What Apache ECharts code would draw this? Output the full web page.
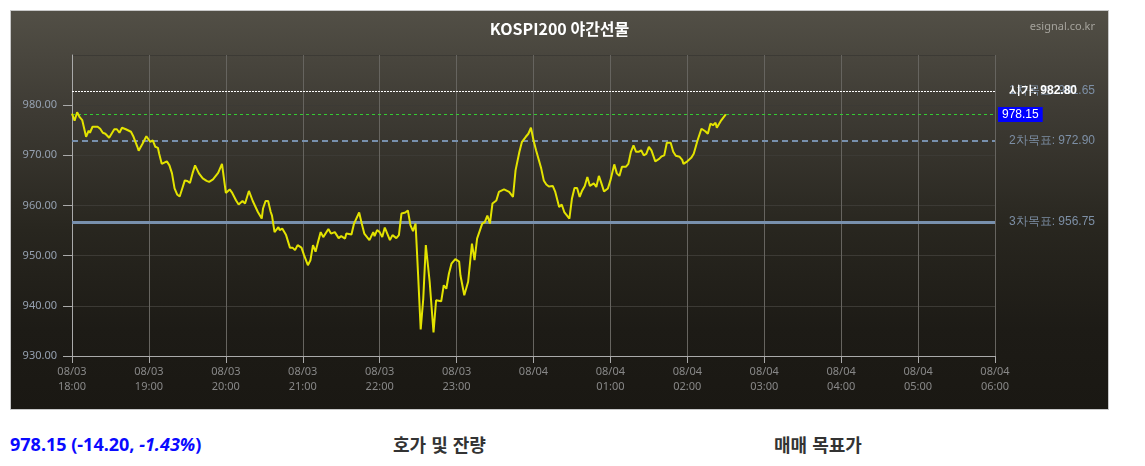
<!DOCTYPE html>
<html lang="ko">

<head>
    <meta charset="UTF-8">
    <title>KOSPI200 야간선물</title>
    <script src="https://cdn.jsdelivr.net/npm/echarts@6/dist/echarts.min.js"></script>
    <style>
        body {
            margin: 0;
            background: #fff;
            font-family: 'Noto Sans', 'Noto Sans CJK KR', sans-serif;
        }

        #box {
            position: absolute;
            left: 10px;
            top: 10px;
            width: 1097px;
            height: 398px;
            border: 1px solid #c8c8c8;
            background: linear-gradient(#524f46 0%, #3e3b34 25%, #28261f 55%, #1d1b16 80%, #1a1813 100%);
        }

        #main {
            width: 1097px;
            height: 398px;
        }

        .foot {
            position: absolute;
            top: 432px;
            font-size: 18px;
            font-weight: bold;
            line-height: 24px;
            font-family: 'Noto Sans CJK KR', sans-serif;
            color: #333;
        }

        .price {
            left: 10px;
            color: #0a0aff;
            font-family: 'Noto Sans', 'Noto Sans CJK KR', sans-serif;
        }
    </style>
</head>

<body>
    <div id="box">
        <div id="main"></div>
    </div>
    <div class="foot price">978.15 (-14.20, <i>-1.43%</i>)</div>
    <div class="foot" style="left:393px">호가 및 잔량</div>
    <div class="foot" style="left:774px">매매 목표가</div>

    <script>
        // 시간축: 18:00 부터 지난 분(minute)
        var minutes = [
            0, 2, 4, 6, 8, 11, 13, 14, 16, 20, 22, 24, 26, 29, 33, 35, 37, 39, 42, 46,
            48, 51, 52, 55, 58, 61, 63, 65, 67, 68, 70, 74, 76, 78, 80, 82, 84, 86, 88, 90,
            92, 94, 96, 99, 102, 105, 107, 110, 114, 117, 118, 120, 123, 125, 128, 130, 133, 135, 138, 141,
            142, 145, 148, 149, 151, 153, 155, 156, 158, 161, 162, 164, 167, 170, 172, 174,
            176, 179, 181, 184, 186, 188, 190, 192, 194, 196, 200, 202, 205, 208, 210, 213, 214, 218, 220, 224,
            226, 228, 232, 235, 236, 238, 240, 242, 244, 248, 250, 253, 255, 257, 260, 262, 264, 266, 268, 270,
            272, 274, 276, 279, 282, 284, 288, 290, 292, 294, 296, 299, 302, 303, 306, 309, 312, 314, 316, 320,
            322, 324, 326, 328, 331, 333, 337, 341, 344,
            346, 349, 351, 354, 356, 358, 360, 362, 366, 368, 370, 372, 375, 377, 380, 382, 384, 388, 390, 392,
            394, 396, 398, 400, 402, 404, 407, 409, 411, 413, 415, 418, 420, 423, 425, 427, 429, 432, 434, 436,
            438, 440, 442, 444, 446, 448, 450, 452, 455, 458, 460, 462, 464, 467, 469, 471, 474, 476, 477, 480,
            483, 485, 488, 491, 494, 496, 498, 500, 502, 503, 506, 510
        ];
        var prices = [
            978.3, 976.9, 978.6, 977.6, 977.0, 973.7, 974.9, 974.5, 975.7, 975.7, 975.3, 974.5, 974.3, 973.5, 975.2, 975.2, 974.5, 975.5, 975.2, 974.7,
            973.7, 971.7, 970.9, 972.3, 973.8, 972.7, 973.0, 971.7, 971.5, 970.3, 968.3, 968.8, 968.0, 966.4, 963.4, 962.2, 961.8, 963.4, 965.0, 964.9,
            964.5, 966.4, 968.0, 966.4, 965.4, 964.9, 964.7, 965.2, 966.5, 968.3, 968.0, 962.5, 963.2, 962.5, 961.0, 960.2, 960.9, 960.4, 962.9, 960.9,
            960.7, 958.7, 957.4, 959.4, 960.9, 960.9, 958.7, 958.0, 954.7, 955.7, 955.1, 955.4, 954.1, 951.6, 951.6, 951.1,
            952.1, 951.6, 950.1, 948.1, 949.1, 952.1, 950.8, 952.8, 954.7, 953.7, 955.3, 954.4, 954.7, 953.5, 953.9, 953.4, 954.4, 954.2, 956.4, 958.6,
            956.4, 954.4, 953.1, 954.7, 953.9, 955.1, 954.7, 953.7, 955.6, 953.1, 954.1, 953.5, 954.1, 958.4, 958.6, 959.0, 956.1, 954.9, 956.4, 946.1,
            935.3, 941.4, 952.1, 944.8, 934.7, 941.1, 940.9, 944.1, 943.4, 946.4, 948.4, 949.3, 948.8, 946.1, 942.1, 944.8, 952.4, 949.1, 953.4, 956.4,
            956.7, 958.0, 956.4, 960.4, 961.0, 962.7, 963.2, 962.7, 961.7,
            967.0, 970.7, 972.7, 973.7, 974.3, 975.5, 973.0, 971.0, 967.4, 965.0, 964.2, 963.8, 963.9, 962.7, 959.7, 960.2, 958.7, 957.4, 961.4, 963.5,
            963.5, 961.7, 963.0, 963.9, 965.7, 963.9, 964.4, 963.7, 965.9, 964.4, 962.8, 963.4, 965.0, 968.2, 966.4, 965.9, 967.7, 967.7, 968.3, 970.7,
            972.0, 970.7, 970.7, 971.0, 970.0, 970.3, 971.7, 971.0, 968.8, 969.3, 969.8, 970.0, 972.5, 972.5, 970.7, 969.9, 969.7, 969.1, 968.3, 968.8,
            969.5, 970.3, 973.0, 975.3, 974.8, 974.3, 976.3, 976.0, 976.5, 975.5, 976.8, 978.15
        ];

        // 기준선 (시가 / 목표가 / 현재가)
        var openPrice = 982.80;
        var curPrice = 978.15;
        var targetNames = ['1차목표', '2차목표', '3차목표'];
        var targetValues = [981.65, 972.90, 956.75];

        // x축 눈금 라벨
        var dayLabels = ['08/03', '08/04'];
        var startHour = 18;

        var seriesData = [];
        for (var i = 0; i < minutes.length; i++) {
            seriesData.push([minutes[i], prices[i]]);
        }

        function pad(n) {
            return n < 10 ? '0' + n : '' + n;
        }

        var lblColor = '#7d8fa5';
        var myChart = echarts.init(document.getElementById('main'));
        var option = {
            animation: false,
            title: [{
                text: 'KOSPI200 야간선물',
                left: 'center',
                top: 5,
                textStyle: {
                    color: '#fff',
                    fontSize: 16,
                    fontWeight: 'bold',
                    fontFamily: 'Noto Sans CJK KR'
                }
            }, {
                text: 'esignal.co.kr',
                right: 8,
                top: 5,
                textStyle: {
                    color: '#a5a39c',
                    fontSize: 11,
                    fontWeight: 'normal',
                    fontFamily: 'Noto Sans'
                }
            }],
            grid: {
                left: 61,
                right: 113,
                top: 44,
                bottom: 53
            },
            xAxis: {
                type: 'value',
                min: 0,
                max: 720,
                interval: 60,
                axisLine: { lineStyle: { color: '#aaa' } },
                axisTick: { length: 7, lineStyle: { color: '#aaa' } },
                splitLine: { show: true, lineStyle: { color: '#66645f' } },
                axisLabel: {
                    color: '#888',
                    fontSize: 11,
                    lineHeight: 15,
                    margin: 8,
                    fontFamily: 'Noto Sans',
                    formatter: function (v) {
                        var h = startHour + v / 60;
                        var day = dayLabels[h >= 24 ? 1 : 0];
                        // 자정은 날짜만 표시
                        if (h === 24) return day + '\n ';
                        return day + '\n' + pad(h % 24) + ':00';
                    }
                }
            },
            yAxis: {
                type: 'value',
                min: 930,
                max: 990,
                interval: 10,
                axisLine: { show: true, lineStyle: { color: '#aaa' } },
                axisTick: { show: true, length: 9, lineStyle: { color: '#aaa' } },
                splitLine: { lineStyle: { color: '#3c3a35' } },
                axisLabel: {
                    color: '#95a0b0',
                    fontSize: 11,
                    margin: 15,
                    showMaxLabel: false,
                    fontFamily: 'Noto Sans',
                    formatter: function (v) { return v.toFixed(2); }
                }
            },
            series: [{
                type: 'line',
                data: seriesData,
                showSymbol: false,
                lineStyle: { color: '#e3e300', width: 2 },
                z: 5,
                markLine: {
                    silent: true,
                    symbol: 'none',
                    data: [{
                        // 1차목표 (라벨만 시가 위치에 겹쳐 보임)
                        yAxis: targetValues[0],
                        lineStyle: { color: 'rgba(0,0,0,0)', width: 1 },
                        label: {
                            position: 'end', distance: 14, offset: [0, -6],
                            color: lblColor, fontSize: 12,
                            formatter: targetNames[0] + ': ' + targetValues[0].toFixed(2)
                        }
                    }, {
                        yAxis: openPrice,
                        lineStyle: { color: '#fff', type: [2, 1], width: 1 },
                        label: {
                            position: 'end', distance: 14,
                            color: '#fff', fontSize: 12, fontWeight: 'bold',
                            formatter: '시가: ' + openPrice.toFixed(2)
                        }
                    }, {
                        yAxis: targetValues[1],
                        lineStyle: { color: '#7890ad', type: [6, 4], width: 2 },
                        label: {
                            position: 'end', distance: 14,
                            color: lblColor, fontSize: 12,
                            formatter: targetNames[1] + ': ' + targetValues[1].toFixed(2)
                        }
                    }, {
                        yAxis: targetValues[2],
                        lineStyle: { color: '#7890ad', type: 'solid', width: 3 },
                        label: {
                            position: 'end', distance: 14,
                            color: lblColor, fontSize: 12,
                            formatter: targetNames[2] + ': ' + targetValues[2].toFixed(2)
                        }
                    }, {
                        yAxis: curPrice,
                        lineStyle: { color: '#33cc33', type: [3, 3], width: 1 },
                        label: {
                            position: 'end', distance: 3,
                            color: '#fff', fontSize: 12,
                            backgroundColor: '#0000ff',
                            padding: [2, 4, 1, 4],
                            formatter: curPrice.toFixed(2)
                        }
                    }]
                }
            }]
        };
        myChart.setOption(option);
    </script>
</body>

</html>
